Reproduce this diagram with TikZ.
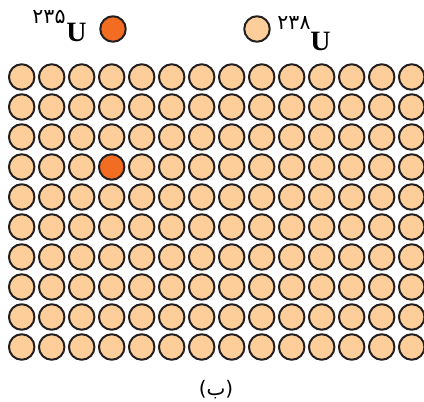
\documentclass[tikz,border=0pt]{standalone}
\usepackage{fontspec}
\newfontfamily\arabicfont[Script=Arabic]{DejaVu Sans}
\newfontfamily\ufont{Liberation Serif}
\definecolor{ulight}{HTML}{FDCE9A}
\definecolor{uhot}{HTML}{F26D21}
\definecolor{rim}{HTML}{231F20}

\begin{document}
\begin{tikzpicture}[x=1pt, y=-1pt, line join=round, line cap=round]
      \def\d{30}
      \def\xo{21.7}
      \def\yo{77}
      \tikzset{atom/.style={circle, draw=rim, line width=2pt, fill=ulight,
          minimum size=25.5pt, inner sep=0pt}}
      \tikzset{iso/.style={font=\arabicfont\fontsize{20.5}{20.5}\selectfont, inner sep=0pt}}
      \tikzset{elem/.style={font=\ufont\bfseries\fontsize{28}{28}\selectfont, inner sep=0pt, anchor=base}}

      \useasboundingbox (0,0) rectangle (424,402);
      \clip (0,0) rectangle (424,402);

      % Legend
      \node[iso] (m235) at (49,17) {۲۳۵};
      \node[elem] (u235) at (76.5,41.5) {U};
      \node[atom, fill=uhot] (k235) at (113,29) {};
      \node[atom] (k238) at (257,29) {};
      \node[iso] (m238) at (294,23) {۲۳۸};
      \node[elem] (u238) at (320.5,50) {U};

      % Fuel grid (one 235 atom at column 4, row 4)
      \foreach \i in {0,...,13}{
        \foreach \j in {0,...,9}{
          \def\fc{ulight}
          \ifnum\i=3 \ifnum\j=3 \def\fc{uhot}\fi\fi
          \node[atom, fill=\fc] (a-\i-\j) at ({\xo+\d*\i},{\yo+\d*\j}) {};
        }
      }

      % Caption
      \node[font=\arabicfont\fontsize{20}{20}\selectfont, inner sep=0pt] (cap) at (216,390) {(ب)};
\end{tikzpicture}
\end{document}
